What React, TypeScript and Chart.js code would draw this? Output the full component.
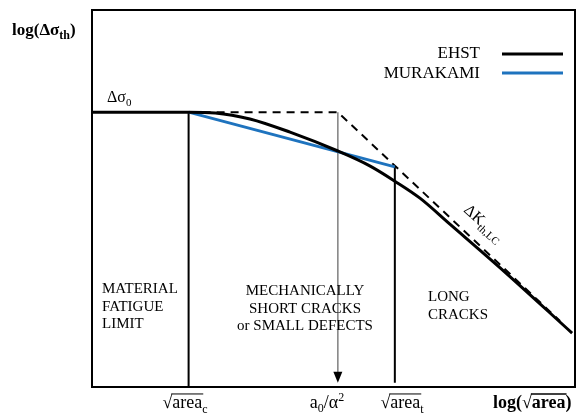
import React, { useEffect, useRef } from "react";
import { Chart, registerables } from "chart.js";

Chart.register(...registerables);

// Data (arbitrary log units, x: log(sqrt(area)), y: log(Δσth))
const ehstX = [0, 2.0, 2.55, 3.27, 4.1, 5.09, 5.76, 6.27, 6.79, 7.41, 8.45, 9.94];
const ehstY = [7.29, 7.29, 7.27, 7.11, 6.76, 6.26, 5.86, 5.46, 5.01, 4.32, 3.16, 1.43];
const murakamiX = [2.0, 6.27];
const murakamiY = [7.29, 5.84];
const dashedX = [2.0, 5.09, 9.69];
const dashedY = [7.29, 7.29, 1.75];
const areaC = 2.0;
const a0Alpha = 5.09;
const areaT = 6.27;
const sigma0 = 7.29;

const FONT = "'Liberation Serif', 'Times New Roman', serif";

type Part = { t: string; size: number; bold?: boolean; dy?: number; over?: boolean };

function drawRich(ctx: CanvasRenderingContext2D, x: number, y: number, parts: Part[], align: "left" | "right" | "center" = "left") {
  let total = 0;
  const widths: number[] = [];
  for (const p of parts) {
    ctx.font = `${p.bold ? "bold " : ""}${p.size}px ${FONT}`;
    const w = ctx.measureText(p.t).width;
    widths.push(w);
    total += w;
  }
  let cx = x;
  if (align === "right") cx = x - total;
  if (align === "center") cx = x - total / 2;
  ctx.textBaseline = "alphabetic";
  ctx.textAlign = "left";
  parts.forEach((p, i) => {
    ctx.font = `${p.bold ? "bold " : ""}${p.size}px ${FONT}`;
    ctx.fillText(p.t, cx, y + (p.dy || 0));
    if (p.over) {
      ctx.save();
      ctx.lineWidth = p.bold ? 1.5 : 1;
      ctx.strokeStyle = "#000";
      ctx.beginPath();
      const oy = y - p.size * 0.78;
      ctx.moveTo(cx - 1, oy);
      ctx.lineTo(cx + widths[i] + 1, oy);
      ctx.stroke();
      ctx.restore();
    }
    cx += widths[i];
  });
}

const overlay = {
  id: "overlay",
  afterDatasetsDraw(chart: any) {
    const { ctx, chartArea, scales } = chart;
    const xs = scales.x;
    const ys = scales.y;
    ctx.save();
    // frame
    ctx.strokeStyle = "#000";
    ctx.lineWidth = 2;
    ctx.strokeRect(chartArea.left, chartArea.top, chartArea.right - chartArea.left, chartArea.bottom - chartArea.top);

    // arrow head
    const ax = xs.getPixelForValue(a0Alpha);
    const tip = ys.getPixelForValue(0.11);
    ctx.fillStyle = "#000";
    ctx.beginPath();
    ctx.moveTo(ax, tip);
    ctx.lineTo(ax - 4.5, tip - 11);
    ctx.lineTo(ax + 4.5, tip - 11);
    ctx.closePath();
    ctx.fill();

    ctx.fillStyle = "#000";
    // y axis title
    drawRich(ctx, 12, 35, [
      { t: "log(Δσ", size: 17, bold: true },
      { t: "th", size: 12, bold: true, dy: 4 },
      { t: ")", size: 17, bold: true },
    ]);
    // Δσ0
    drawRich(ctx, 107, 102, [
      { t: "Δσ", size: 16 },
      { t: "0", size: 11, dy: 4 },
    ]);
    // legend
    drawRich(ctx, 480, 58, [{ t: "EHST", size: 17 }], "right");
    drawRich(ctx, 480, 78, [{ t: "MURAKAMI", size: 17 }], "right");
    ctx.lineWidth = 3;
    ctx.strokeStyle = "#000";
    ctx.beginPath();
    ctx.moveTo(502, 54);
    ctx.lineTo(563, 54);
    ctx.stroke();
    ctx.strokeStyle = "#1E73BE";
    ctx.beginPath();
    ctx.moveTo(502, 73);
    ctx.lineTo(563, 73);
    ctx.stroke();

    // region labels
    const lab = (x: number, y: number, lines: string[], align: "left" | "center") => {
      lines.forEach((l, i) => drawRich(ctx, x, y + i * 17.5, [{ t: l, size: 15 }], align));
    };
    lab(102, 293, ["MATERIAL", "FATIGUE", "LIMIT"], "left");
    lab(305, 295, ["MECHANICALLY", "SHORT CRACKS", "or SMALL DEFECTS"], "center");
    lab(428, 301, ["LONG", "CRACKS"], "left");

    // ΔK th,LC rotated
    ctx.save();
    ctx.translate(463, 211);
    ctx.rotate((42 * Math.PI) / 180);
    drawRich(ctx, 0, 0, [
      { t: "ΔK", size: 16 },
      { t: "th,LC", size: 11, dy: 4 },
    ]);
    ctx.restore();

    // bottom labels
    drawRich(ctx, 185, 408, [
      { t: "√", size: 18 },
      { t: "area", size: 18, over: true },
      { t: "c", size: 12, dy: 5 },
    ], "center");
    drawRich(ctx, 327, 408, [
      { t: "a", size: 18 },
      { t: "0", size: 12, dy: 4 },
      { t: "/", size: 18 },
      { t: "α", size: 18 },
      { t: "2", size: 12, dy: -7 },
    ], "center");
    drawRich(ctx, 402, 408, [
      { t: "√", size: 18 },
      { t: "area", size: 18, over: true },
      { t: "t", size: 12, dy: 5 },
    ], "center");
    drawRich(ctx, 493, 408, [
      { t: "log(", size: 18, bold: true },
      { t: "√", size: 18, bold: true },
      { t: "area", size: 18, bold: true, over: true },
      { t: ")", size: 18, bold: true },
    ], "left");
    ctx.restore();
  },
};

function pts(xs: number[], ys: number[]) {
  return xs.map((x, i) => ({ x, y: ys[i] }));
}

export default function App() {
  const ref = useRef<HTMLCanvasElement>(null);
  useEffect(() => {
    document.body.style.margin = "0";
    const canvas = ref.current!;
    const chart = new Chart(canvas, {
      type: "line",
      data: {
        datasets: [
          {
            label: "EHST",
            data: pts(ehstX, ehstY),
            borderColor: "#000",
            borderWidth: 3,
            pointRadius: 0,
            cubicInterpolationMode: "monotone",
            fill: false,
          },
          {
            label: "MURAKAMI",
            data: pts(murakamiX, murakamiY),
            borderColor: "#1E73BE",
            borderWidth: 3,
            pointRadius: 0,
            fill: false,
          },
          {
            label: "asymptotes",
            data: pts(dashedX, dashedY),
            borderColor: "#000",
            borderWidth: 2,
            borderDash: [8, 6],
            pointRadius: 0,
            fill: false,
          },
          {
            label: "c",
            data: [{ x: areaC, y: sigma0 }, { x: areaC, y: 0 }],
            borderColor: "#000",
            borderWidth: 2,
            pointRadius: 0,
          },
          {
            label: "t",
            data: [{ x: areaT, y: murakamiY[1] }, { x: areaT, y: 0.11 }],
            borderColor: "#000",
            borderWidth: 2,
            pointRadius: 0,
          },
          {
            label: "a0",
            data: [{ x: a0Alpha, y: sigma0 }, { x: a0Alpha, y: 0.3 }],
            borderColor: "#808080",
            borderWidth: 1.5,
            pointRadius: 0,
          },
        ],
      },
      options: {
        responsive: false,
        animation: false,
        layout: { padding: { left: 92, top: 10, right: 2, bottom: 30 } },
        plugins: { legend: { display: false }, tooltip: { enabled: false } },
        scales: {
          x: { type: "linear", min: 0, max: 10, display: false },
          y: { type: "linear", min: 0, max: 10, display: false },
        },
      },
      plugins: [overlay],
    });
    return () => chart.destroy();
  }, []);
  return <canvas ref={ref} width={577} height={417} style={{ display: "block" }} />;
}
